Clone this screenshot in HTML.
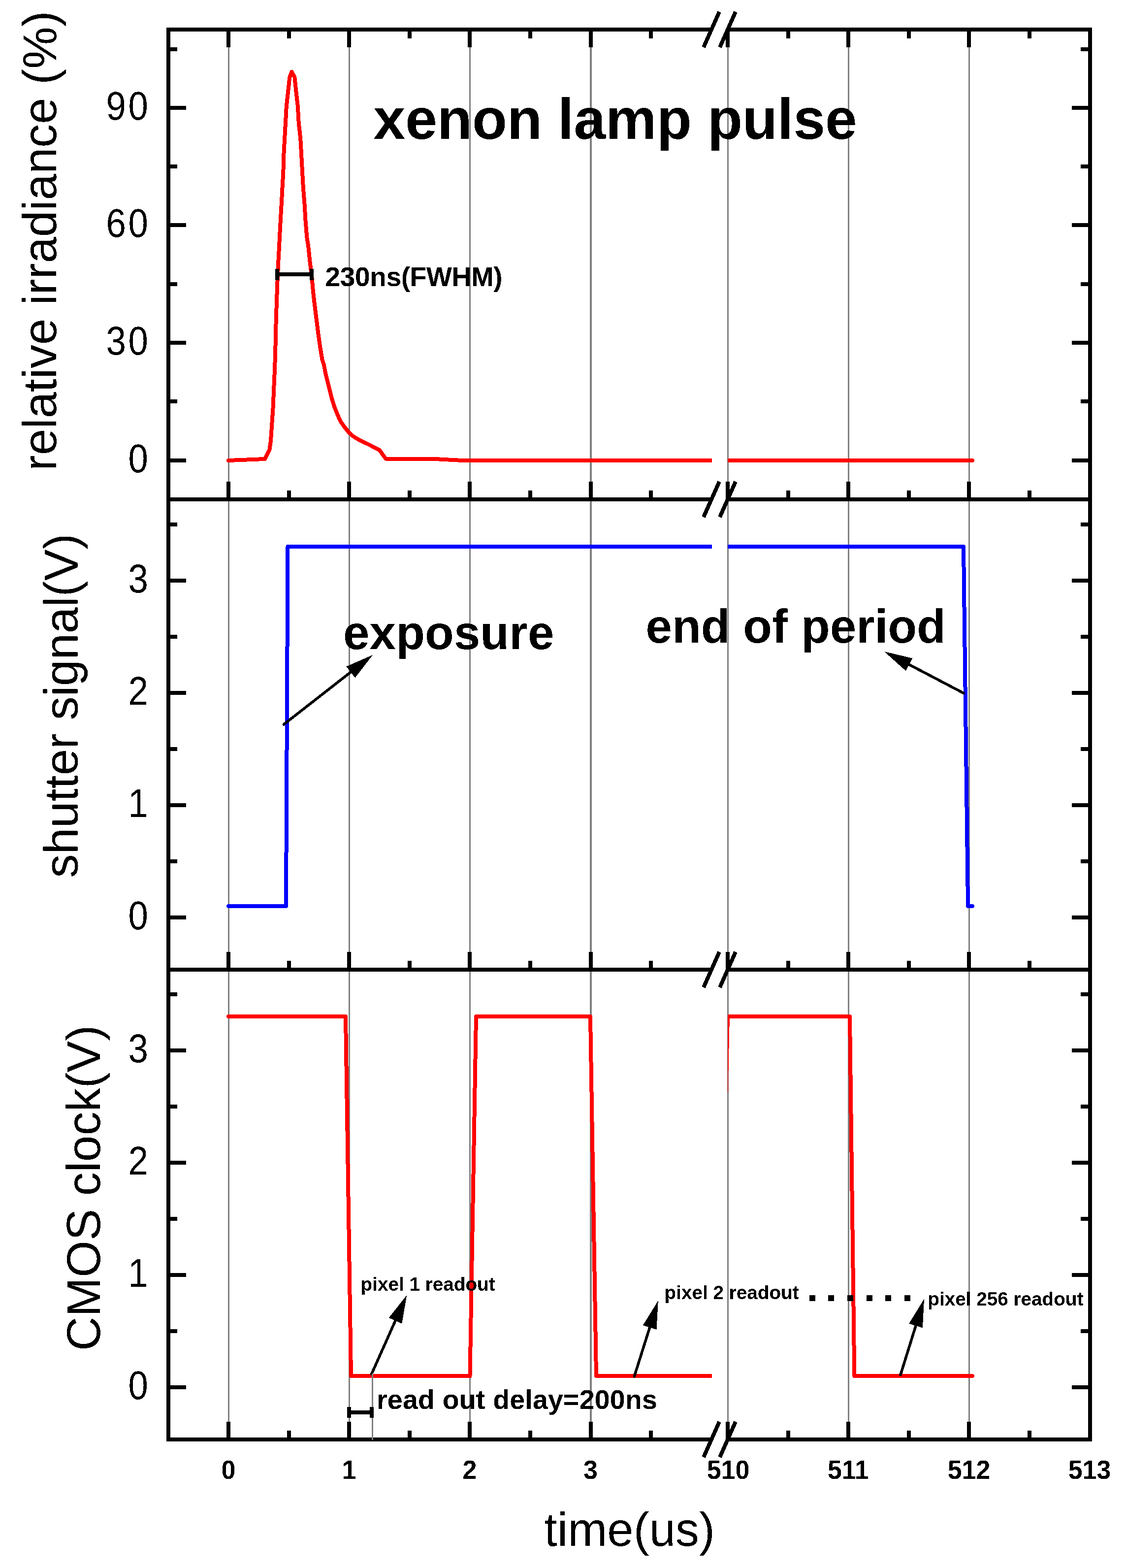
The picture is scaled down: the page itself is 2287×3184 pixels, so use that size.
<!DOCTYPE html>
<html lang="en">
<head>
<meta charset="utf-8">
<title>Timing diagram: xenon lamp pulse, shutter signal and CMOS clock</title>
<style>
html,body{margin:0;padding:0;background:#fff;}
body{width:2287px;height:3184px;}
svg{display:block;}
svg text{font-family:"Liberation Sans",sans-serif;}
</style>
</head>
<body>
<svg width="2287" height="3184" viewBox="0 0 2287 3184" shape-rendering="crispEdges">
<rect x="0" y="0" width="2287" height="3184" fill="#fff"/>
<g id="grid" fill="#808080">
<rect x="463" y="60" width="3" height="2863" fill="#808080"/>
<rect x="708" y="60" width="3" height="2863" fill="#808080"/>
<rect x="953" y="60" width="3" height="2863" fill="#808080"/>
<rect x="1198" y="60" width="4" height="2863" fill="#808080"/>
<rect x="1477" y="60" width="3" height="2863" fill="#808080"/>
<rect x="1722" y="60" width="3" height="2863" fill="#808080"/>
<rect x="1967" y="60" width="3" height="2863" fill="#808080"/>
</g>
<defs><filter id="crisp" filterUnits="userSpaceOnUse" x="0" y="0" width="2287" height="3184" color-interpolation-filters="sRGB"><feComponentTransfer><feFuncA type="discrete" tableValues="0 1"/></feComponentTransfer></filter><clipPath id="cl"><rect x="0" y="0" width="1446" height="3184"/></clipPath><clipPath id="cr"><rect x="1478" y="0" width="900" height="3184"/></clipPath></defs>
<g id="panel1-data">
<polyline points="464,935 538,932 547.6,912.5 550.1,894 552.3,861 554.6,827.8 556,794.7 557.5,761.5 558.8,728.4 559.7,695.2 560.6,654.7 561.9,614.2 563.4,573.7 565.2,533 566.7,507 568,481 569.8,447.8 571.7,414.7 573.5,381.5 575.4,348.4 576.3,315.2 578.1,282 580,248.9 581.8,215.8 585.5,182.6 588.3,156.8 592.5,145.8 598.4,156.8 601.1,182.6 604.8,215.8 606.7,248.9 610.3,282 612.2,315.2 614,348.4 615.9,381.5 618.6,414.7 620.5,447.8 623.2,481 626.2,500 629.7,533.1 633.4,562.6 635.6,588.4 638.9,617.9 642.6,647.3 646.3,676.8 649.9,702.6 654.5,730.2 657.7,740 662.1,762.1 667.6,784.2 673.1,806.3 679.2,826.2 685.3,841.7 691.9,856 699.7,867.1 708.5,878.1 717.3,885.9 726.2,891.4 739.4,898 750.5,903.5 761.5,909.1 770.4,913.5 783.6,931.7 883,932 939,935 1460,935" fill="none" stroke="#f00" stroke-width="8" stroke-linejoin="round" stroke-linecap="round" clip-path="url(#cl)"/>
<g clip-path="url(#cr)">
<polyline points="1470,935 1975,935" fill="none" stroke="#f00" stroke-width="8" stroke-linejoin="round" stroke-linecap="round"/>
</g></g>
<g id="panel2-data">
<polyline points="464,1840 581,1840 584.5,1110 1460,1110" fill="none" stroke="#00f" stroke-width="8" stroke-linejoin="round" stroke-linecap="round" clip-path="url(#cl)"/>
<g clip-path="url(#cr)">
<polyline points="1470,1110 1957,1110 1966,1840 1975,1840" fill="none" stroke="#00f" stroke-width="8" stroke-linejoin="round" stroke-linecap="round"/>
</g></g>
<g id="panel3-data">
<polyline points="464,2064 702,2064 713,2794 954.5,2794 967,2064 1199,2064 1211,2794 1460,2794" fill="none" stroke="#f00" stroke-width="8" stroke-linejoin="round" stroke-linecap="round" clip-path="url(#cl)"/>
<g clip-path="url(#cr)">
<polyline points="1461.4,2794 1478,2064 1726,2064 1735.3,2794 1975,2794" fill="none" stroke="#f00" stroke-width="8" stroke-linejoin="round" stroke-linecap="round"/>
</g></g>
<g id="axes" fill="#000">
<rect x="338" y="56" width="8" height="2871" fill="#000"/>
<rect x="2210" y="56" width="8" height="2871" fill="#000"/>
<rect x="338" y="56" width="1107" height="8" fill="#000"/>
<rect x="1478" y="56" width="740" height="8" fill="#000"/>
<rect x="338" y="1010" width="1107" height="8" fill="#000"/>
<rect x="1478" y="1010" width="740" height="8" fill="#000"/>
<rect x="338" y="1965" width="1107" height="8" fill="#000"/>
<rect x="1478" y="1965" width="740" height="8" fill="#000"/>
<rect x="338" y="2919" width="1107" height="8" fill="#000"/>
<rect x="1478" y="2919" width="740" height="8" fill="#000"/>
<rect x="460" y="60" width="8" height="36" fill="#000"/>
<rect x="460" y="978" width="8" height="36" fill="#000"/>
<rect x="460" y="1933" width="8" height="36" fill="#000"/>
<rect x="460" y="2887" width="8" height="36" fill="#000"/>
<rect x="705" y="60" width="8" height="36" fill="#000"/>
<rect x="705" y="978" width="8" height="36" fill="#000"/>
<rect x="705" y="1933" width="8" height="36" fill="#000"/>
<rect x="705" y="2887" width="8" height="36" fill="#000"/>
<rect x="950" y="60" width="8" height="36" fill="#000"/>
<rect x="950" y="978" width="8" height="36" fill="#000"/>
<rect x="950" y="1933" width="8" height="36" fill="#000"/>
<rect x="950" y="2887" width="8" height="36" fill="#000"/>
<rect x="1196" y="60" width="8" height="36" fill="#000"/>
<rect x="1196" y="978" width="8" height="36" fill="#000"/>
<rect x="1196" y="1933" width="8" height="36" fill="#000"/>
<rect x="1196" y="2887" width="8" height="36" fill="#000"/>
<rect x="1474" y="60" width="8" height="36" fill="#000"/>
<rect x="1474" y="978" width="8" height="36" fill="#000"/>
<rect x="1474" y="1933" width="8" height="36" fill="#000"/>
<rect x="1474" y="2887" width="8" height="36" fill="#000"/>
<rect x="1719" y="60" width="8" height="36" fill="#000"/>
<rect x="1719" y="978" width="8" height="36" fill="#000"/>
<rect x="1719" y="1933" width="8" height="36" fill="#000"/>
<rect x="1719" y="2887" width="8" height="36" fill="#000"/>
<rect x="1964" y="60" width="8" height="36" fill="#000"/>
<rect x="1964" y="978" width="8" height="36" fill="#000"/>
<rect x="1964" y="1933" width="8" height="36" fill="#000"/>
<rect x="1964" y="2887" width="8" height="36" fill="#000"/>
<rect x="583" y="60" width="8" height="18" fill="#000"/>
<rect x="583" y="996" width="8" height="18" fill="#000"/>
<rect x="583" y="1951" width="8" height="18" fill="#000"/>
<rect x="583" y="2905" width="8" height="18" fill="#000"/>
<rect x="828" y="60" width="8" height="18" fill="#000"/>
<rect x="828" y="996" width="8" height="18" fill="#000"/>
<rect x="828" y="1951" width="8" height="18" fill="#000"/>
<rect x="828" y="2905" width="8" height="18" fill="#000"/>
<rect x="1073" y="60" width="8" height="18" fill="#000"/>
<rect x="1073" y="996" width="8" height="18" fill="#000"/>
<rect x="1073" y="1951" width="8" height="18" fill="#000"/>
<rect x="1073" y="2905" width="8" height="18" fill="#000"/>
<rect x="1318" y="60" width="8" height="18" fill="#000"/>
<rect x="1318" y="996" width="8" height="18" fill="#000"/>
<rect x="1318" y="1951" width="8" height="18" fill="#000"/>
<rect x="1318" y="2905" width="8" height="18" fill="#000"/>
<rect x="1597" y="60" width="8" height="18" fill="#000"/>
<rect x="1597" y="996" width="8" height="18" fill="#000"/>
<rect x="1597" y="1951" width="8" height="18" fill="#000"/>
<rect x="1597" y="2905" width="8" height="18" fill="#000"/>
<rect x="1842" y="60" width="8" height="18" fill="#000"/>
<rect x="1842" y="996" width="8" height="18" fill="#000"/>
<rect x="1842" y="1951" width="8" height="18" fill="#000"/>
<rect x="1842" y="2905" width="8" height="18" fill="#000"/>
<rect x="2087" y="60" width="8" height="18" fill="#000"/>
<rect x="2087" y="996" width="8" height="18" fill="#000"/>
<rect x="2087" y="1951" width="8" height="18" fill="#000"/>
<rect x="2087" y="2905" width="8" height="18" fill="#000"/>
<rect x="342" y="931" width="36" height="8" fill="#000"/>
<rect x="2177" y="931" width="37" height="8" fill="#000"/>
<rect x="342" y="692" width="36" height="8" fill="#000"/>
<rect x="2177" y="692" width="37" height="8" fill="#000"/>
<rect x="342" y="453" width="36" height="8" fill="#000"/>
<rect x="2177" y="453" width="37" height="8" fill="#000"/>
<rect x="342" y="215" width="36" height="8" fill="#000"/>
<rect x="2177" y="215" width="37" height="8" fill="#000"/>
<rect x="342" y="1859" width="36" height="8" fill="#000"/>
<rect x="2177" y="1859" width="37" height="8" fill="#000"/>
<rect x="342" y="1631" width="36" height="8" fill="#000"/>
<rect x="2177" y="1631" width="37" height="8" fill="#000"/>
<rect x="342" y="1403" width="36" height="8" fill="#000"/>
<rect x="2177" y="1403" width="37" height="8" fill="#000"/>
<rect x="342" y="1175" width="36" height="8" fill="#000"/>
<rect x="2177" y="1175" width="37" height="8" fill="#000"/>
<rect x="342" y="2813" width="36" height="8" fill="#000"/>
<rect x="2177" y="2813" width="37" height="8" fill="#000"/>
<rect x="342" y="2585" width="36" height="8" fill="#000"/>
<rect x="2177" y="2585" width="37" height="8" fill="#000"/>
<rect x="342" y="2357" width="36" height="8" fill="#000"/>
<rect x="2177" y="2357" width="37" height="8" fill="#000"/>
<rect x="342" y="2129" width="36" height="8" fill="#000"/>
<rect x="2177" y="2129" width="37" height="8" fill="#000"/>
<rect x="342" y="811" width="18" height="8" fill="#000"/>
<rect x="2195" y="811" width="19" height="8" fill="#000"/>
<rect x="342" y="572.5" width="18" height="8" fill="#000"/>
<rect x="2195" y="572.5" width="19" height="8" fill="#000"/>
<rect x="342" y="334" width="18" height="8" fill="#000"/>
<rect x="2195" y="334" width="19" height="8" fill="#000"/>
<rect x="342" y="96" width="18" height="8" fill="#000"/>
<rect x="2195" y="96" width="19" height="8" fill="#000"/>
<rect x="342" y="1745" width="18" height="8" fill="#000"/>
<rect x="2195" y="1745" width="19" height="8" fill="#000"/>
<rect x="342" y="1517" width="18" height="8" fill="#000"/>
<rect x="2195" y="1517" width="19" height="8" fill="#000"/>
<rect x="342" y="1289" width="18" height="8" fill="#000"/>
<rect x="2195" y="1289" width="19" height="8" fill="#000"/>
<rect x="342" y="1061" width="18" height="8" fill="#000"/>
<rect x="2195" y="1061" width="19" height="8" fill="#000"/>
<rect x="342" y="2699" width="18" height="8" fill="#000"/>
<rect x="2195" y="2699" width="19" height="8" fill="#000"/>
<rect x="342" y="2471" width="18" height="8" fill="#000"/>
<rect x="2195" y="2471" width="19" height="8" fill="#000"/>
<rect x="342" y="2243" width="18" height="8" fill="#000"/>
<rect x="2195" y="2243" width="19" height="8" fill="#000"/>
<rect x="342" y="2015" width="18" height="8" fill="#000"/>
<rect x="2195" y="2015" width="19" height="8" fill="#000"/>
</g>
<g id="breaks">
<line x1="1429" y1="96" x2="1461" y2="24" stroke="#000" stroke-width="8" stroke-linecap="butt"/>
<line x1="1462" y1="96" x2="1494" y2="24" stroke="#000" stroke-width="8" stroke-linecap="butt"/>
<line x1="1429" y1="1050" x2="1461" y2="978" stroke="#000" stroke-width="8" stroke-linecap="butt"/>
<line x1="1462" y1="1050" x2="1494" y2="978" stroke="#000" stroke-width="8" stroke-linecap="butt"/>
<line x1="1429" y1="2005" x2="1461" y2="1933" stroke="#000" stroke-width="8" stroke-linecap="butt"/>
<line x1="1462" y1="2005" x2="1494" y2="1933" stroke="#000" stroke-width="8" stroke-linecap="butt"/>
<line x1="1429" y1="2959" x2="1461" y2="2887" stroke="#000" stroke-width="8" stroke-linecap="butt"/>
<line x1="1462" y1="2959" x2="1494" y2="2887" stroke="#000" stroke-width="8" stroke-linecap="butt"/>
</g>
<g id="arrows">
<line x1="576.37" y1="1471.01" x2="713.85" y2="1363.65" stroke="#000" stroke-width="5.5" stroke-linecap="round"/>
<polygon points="757.2,1329.8 721.2,1376.31 703.35,1353.45" fill="#000"/>
<line x1="1957.56" y1="1407.72" x2="1844.71" y2="1348.54" stroke="#000" stroke-width="5.5" stroke-linecap="round"/>
<polygon points="1796,1323 1853.21,1336.63 1839.75,1362.31" fill="#000"/>
<line x1="754.72" y1="2789.99" x2="803.86" y2="2680.01" stroke="#000" stroke-width="5.5" stroke-linecap="round"/>
<polygon points="826.3,2629.8 816.28,2687.76 789.81,2675.93" fill="#000"/>
<line x1="1288.33" y1="2794.98" x2="1320.27" y2="2693.66" stroke="#000" stroke-width="5.5" stroke-linecap="round"/>
<polygon points="1336.8,2641.2 1333.49,2699.92 1305.83,2691.2" fill="#000"/>
<line x1="1829.12" y1="2791.47" x2="1860.66" y2="2690.12" stroke="#000" stroke-width="5.5" stroke-linecap="round"/>
<polygon points="1877,2637.6 1873.91,2696.33 1846.22,2687.72" fill="#000"/>
</g>
<g id="marks">
<rect x="755" y="2789" width="3" height="135" fill="#808080"/>
<rect x="559" y="553" width="78" height="8" fill="#000"/>
<rect x="559" y="546" width="8" height="23" fill="#000"/>
<rect x="629" y="546" width="8" height="23" fill="#000"/>
<rect x="705" y="2864" width="54" height="8" fill="#000"/>
<rect x="705" y="2857" width="8" height="22" fill="#000"/>
<rect x="751" y="2857" width="8" height="22" fill="#000"/>
<rect x="1644" y="2630" width="12" height="12" fill="#000"/>
<rect x="1682" y="2630" width="12" height="12" fill="#000"/>
<rect x="1721" y="2630" width="12" height="12" fill="#000"/>
<rect x="1760" y="2630" width="12" height="12" fill="#000"/>
<rect x="1798" y="2630" width="12" height="12" fill="#000"/>
<rect x="1837" y="2630" width="12" height="12" fill="#000"/>
</g>
<g id="labels" fill="#000" filter="url(#crisp)">
<text transform="translate(305.6 958.5) scale(0.93 1.035)" font-size="78" letter-spacing="5" text-anchor="end">0</text>
<text transform="translate(305.6 719.5) scale(0.93 1.035)" font-size="78" letter-spacing="5" text-anchor="end">30</text>
<text transform="translate(305.6 480.5) scale(0.93 1.035)" font-size="78" letter-spacing="5" text-anchor="end">60</text>
<text transform="translate(305.6 242.5) scale(0.93 1.035)" font-size="78" letter-spacing="5" text-anchor="end">90</text>
<text transform="translate(305.6 1886.5) scale(0.93 1.035)" font-size="78" letter-spacing="5" text-anchor="end">0</text>
<text transform="translate(305.6 1658.5) scale(0.93 1.035)" font-size="78" letter-spacing="5" text-anchor="end">1</text>
<text transform="translate(305.6 1430.5) scale(0.93 1.035)" font-size="78" letter-spacing="5" text-anchor="end">2</text>
<text transform="translate(305.6 1202.5) scale(0.93 1.035)" font-size="78" letter-spacing="5" text-anchor="end">3</text>
<text transform="translate(305.6 2840.5) scale(0.93 1.035)" font-size="78" letter-spacing="5" text-anchor="end">0</text>
<text transform="translate(305.6 2612.5) scale(0.93 1.035)" font-size="78" letter-spacing="5" text-anchor="end">1</text>
<text transform="translate(305.6 2384.5) scale(0.93 1.035)" font-size="78" letter-spacing="5" text-anchor="end">2</text>
<text transform="translate(305.6 2156.5) scale(0.93 1.035)" font-size="78" letter-spacing="5" text-anchor="end">3</text>
<text transform="translate(464 3003) scale(1 1.03)" font-size="52" font-weight="bold" text-anchor="middle">0</text>
<text transform="translate(709 3003) scale(1 1.03)" font-size="52" font-weight="bold" text-anchor="middle">1</text>
<text transform="translate(954 3003) scale(1 1.03)" font-size="52" font-weight="bold" text-anchor="middle">2</text>
<text transform="translate(1199.5 3003) scale(1 1.03)" font-size="52" font-weight="bold" text-anchor="middle">3</text>
<text transform="translate(1479 3003) scale(1 1.03)" font-size="52" font-weight="bold" text-anchor="middle">510</text>
<text transform="translate(1723 3003) scale(1 1.03)" font-size="52" font-weight="bold" text-anchor="middle">511</text>
<text transform="translate(1968 3003) scale(1 1.03)" font-size="52" font-weight="bold" text-anchor="middle">512</text>
<text transform="translate(2213 3003) scale(1 1.03)" font-size="52" font-weight="bold" text-anchor="middle">513</text>
<text x="1105.3" y="3139" font-size="96">time(us)</text>
<text x="114" y="956" font-size="96" transform="rotate(-90 114 956)">relative irradiance (%)</text>
<text x="157" y="1782.5" font-size="96" transform="rotate(-90 157 1782.5)">shutter signal(V)</text>
<text x="203" y="2743" font-size="96" transform="rotate(-90 203 2743)">CMOS clock(V)</text>
</g>
<g id="notes" fill="#000" filter="url(#crisp)">
<text x="758.5" y="282" font-size="116.3" font-weight="bold">xenon lamp pulse</text>
<text x="660.5" y="581" font-size="55" font-weight="bold" textLength="360.2" lengthAdjust="spacing">230ns(FWHM)</text>
<text x="697" y="1317.5" font-size="96" font-weight="bold" textLength="428.3" lengthAdjust="spacing">exposure</text>
<text x="1311.5" y="1305" font-size="96" font-weight="bold" textLength="609.5" lengthAdjust="spacing">end of period</text>
<text x="732.5" y="2621" font-size="38.7" font-weight="bold">pixel 1 readout</text>
<text x="1349.5" y="2637.5" font-size="38.7" font-weight="bold">pixel 2 readout</text>
<text x="1884.3" y="2650.5" font-size="38.7" font-weight="bold">pixel 256 readout</text>
<text x="765" y="2861" font-size="55.5" font-weight="bold" textLength="569.9" lengthAdjust="spacing">read out delay=200ns</text>
</g>
</svg>
</body>
</html>
